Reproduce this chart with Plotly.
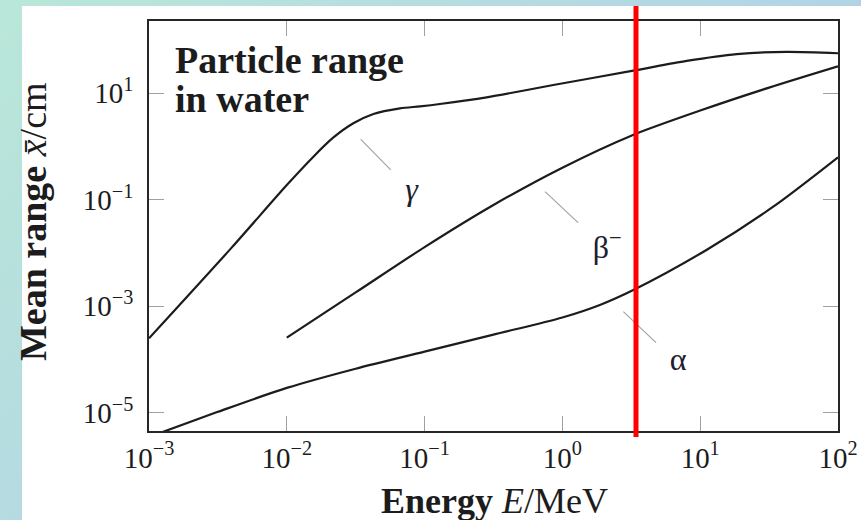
import base64
import plotly.graph_objects as go

# ---------------- data ----------------
gamma_E = [1e-3, 3.98e-3, 1e-2, 1.56e-2, 2.17e-2, 3.04e-2, 4.25e-2, 6.62e-2, 9.27e-2, 0.129, 0.282, 0.859, 3.27, 7.98, 18.4, 42.4, 100]
gamma_R = [2.51e-4, 1.26e-2, 0.188, 0.640, 1.45, 2.70, 4.04, 5.15, 5.62, 6.22, 8.30, 14.1, 26.2, 40.0, 53.7, 59.2, 55.6]

beta_E = [1e-2, 3.16e-2, 0.1, 0.316, 1.0, 3.16, 10.0, 31.6, 100]
beta_R = [2.58e-4, 1.82e-3, 1.29e-2, 7.94e-2, 0.398, 1.585, 4.68, 12.6, 31.6]

alpha_E = [1e-3, 3.16e-3, 1e-2, 3.16e-2, 0.1, 0.316, 1.0, 1.87, 3.27, 11.1, 33.9, 100]
alpha_R = [3.55e-6, 1.05e-5, 2.95e-5, 6.76e-5, 1.41e-4, 2.95e-4, 6.17e-4, 1.06e-3, 2.02e-3, 1.14e-2, 7.38e-2, 0.622]

marker_E = 3.42  # red vertical marker, MeV

x_tickvals = [1e-3, 1e-2, 1e-1, 1e0, 1e1, 1e2]
x_ticktext = ["10<sup>\u22123</sup>", "10<sup>\u22122</sup>", "10<sup>\u22121</sup>",
              "10<sup>0</sup>", "10<sup>1</sup>", "10<sup>2</sup>"]
y_tickvals = [1e1, 1e-1, 1e-3, 1e-5]
y_ticktext = ["10<sup>1</sup>", "10<sup>\u22121</sup>", "10<sup>\u22123</sup>", "10<sup>\u22125</sup>"]

labels = ["<i>\u03b3</i>", "\u03b2<sup>\u2212</sup>", "\u03b1"]
label_E = [0.0805, 2.11, 6.93]
label_R = [0.141, 0.0114, 9.16e-5]
# short grey pointer lines (start/end) for each label
ptr_E0 = [0.0344, 0.748, 2.77]
ptr_R0 = [1.35, 0.141, 7.94e-4]
ptr_E1 = [0.0568, 1.30, 4.78]
ptr_R1 = [0.36, 0.037, 2.08e-4]

# ---------------- layout geometry (pixels) ----------------
W, H = 861, 520
L, R, T, B = 149, 23, 21, 89
PW, PH = W - L - R, H - T - B


def px_x(px):
    return (px - L) / PW


def px_y(py):
    return (H - B - py) / PH


FONT = "Liberation Serif"
INK = "#1c1c1c"

fig = go.Figure()

line_style = dict(color=INK, width=2.2, shape="spline", smoothing=0.8)
for E, Rv, name in [(gamma_E, gamma_R, "gamma"), (beta_E, beta_R, "beta"), (alpha_E, alpha_R, "alpha")]:
    fig.add_trace(go.Scatter(x=E, y=Rv, mode="lines", line=line_style, name=name,
                             showlegend=False, hoverinfo="skip"))

# pointer lines
px_list, py_list = [], []
for i in range(3):
    px_list += [ptr_E0[i], ptr_E1[i], None]
    py_list += [ptr_R0[i], ptr_R1[i], None]
fig.add_trace(go.Scatter(x=px_list, y=py_list, mode="lines",
                         line=dict(color="#a0a0a0", width=1.1),
                         showlegend=False, hoverinfo="skip"))

# labels
fig.add_trace(go.Scatter(x=label_E, y=label_R, mode="text", text=labels,
                         textposition="middle center",
                         textfont=dict(family=FONT, size=32, color="#20202c"),
                         showlegend=False, hoverinfo="skip"))

# gradient background image
svg = ("<svg xmlns='http://www.w3.org/2000/svg' width='861' height='520' preserveAspectRatio='none'>"
       "<defs><linearGradient id='g' x1='0' y1='0' x2='1' y2='0.6'>"
       "<stop offset='0' stop-color='#b9e7d8'/><stop offset='1' stop-color='#b0ccec'/>"
       "</linearGradient></defs><rect width='861' height='520' fill='url(#g)'/></svg>")
uri = "data:image/svg+xml;base64," + base64.b64encode(svg.encode()).decode()
fig.add_layout_image(dict(source=uri, xref="paper", yref="paper",
                          x=px_x(0), y=px_y(0), sizex=W / PW, sizey=H / PH,
                          sizing="stretch", xanchor="left", yanchor="top", layer="below"))

# white panel
fig.add_shape(type="rect", xref="paper", yref="paper",
              x0=px_x(22), x1=px_x(W + 2), y0=px_y(H + 2), y1=px_y(6),
              fillcolor="white", line=dict(width=0), layer="below")

# red marker line
fig.add_shape(type="line", xref="x", yref="paper", x0=marker_E, x1=marker_E,
              y0=px_y(437), y1=px_y(6), line=dict(color="#ff0000", width=5))

axis_common = dict(type="log", showgrid=False, zeroline=False, ticks="inside", ticklen=15,
                   tickcolor="#a0a0a0", tickwidth=1, showline=True, linecolor="#262626",
                   linewidth=1.5, mirror="ticks", automargin=False,
                   tickfont=dict(family=FONT, size=29, color=INK))

fig.update_layout(
    width=W, height=H, autosize=False,
    margin=dict(l=L, r=R, t=T, b=B, pad=0),
    paper_bgcolor="white", plot_bgcolor="rgba(0,0,0,0)",
    xaxis=dict(axis_common, range=[-3, 2], tickvals=x_tickvals, ticktext=x_ticktext),
    yaxis=dict(axis_common, range=[-5.338, 2.35], tickvals=y_tickvals, ticktext=y_ticktext,
               ticklabelstandoff=8),
    annotations=[
        dict(text="<b>Particle range</b>", xref="paper", yref="paper", x=px_x(173), y=px_y(60),
             xanchor="left", yanchor="middle", showarrow=False,
             font=dict(family=FONT, size=38, color=INK)),
        dict(text="<b>in water</b>", xref="paper", yref="paper", x=px_x(173), y=px_y(99),
             xanchor="left", yanchor="middle", showarrow=False,
             font=dict(family=FONT, size=38, color=INK)),
        dict(text="<b>Energy</b> <i>E</i>/MeV", xref="paper", yref="paper", x=px_x(495), y=px_y(501),
             xanchor="center", yanchor="middle", showarrow=False,
             font=dict(family=FONT, size=36, color=INK)),
        dict(text="<b>Mean range</b> <i>x\u0304</i>/cm", xref="paper", yref="paper", x=px_x(33), y=px_y(222),
             xanchor="center", yanchor="middle", showarrow=False, textangle=-90,
             font=dict(family=FONT, size=38, color=INK)),
    ],
)

fig.write_html("out.html",
               config={"displayModeBar": False, "responsive": False},
               post_script="document.body.style.margin='0';document.body.style.overflow='hidden';")
